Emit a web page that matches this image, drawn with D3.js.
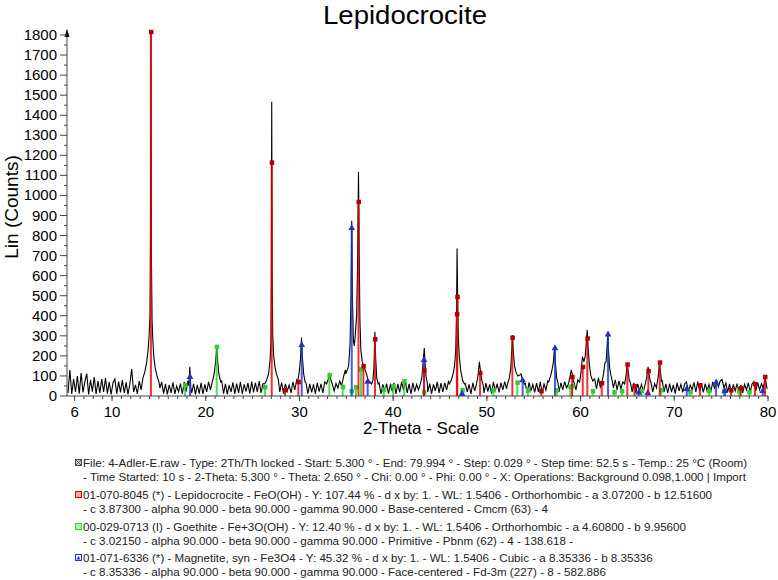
<!DOCTYPE html>
<html><head><meta charset="utf-8">
<script src="https://cdn.jsdelivr.net/npm/d3@7"></script>
<style>body{margin:0;background:#fff} text{font-family:"Liberation Sans",Arial,Helvetica,sans-serif}</style>
</head><body><svg id="c" width="778" height="580"></svg>
<script>
// ---------- DATA ----------
const scanStart = 5.3, scanStep = 0.2;
const scanCounts = [
 15,130,10,85,20,100,12,115,18,70,
 112,8,80,22,95,10,75,15,85,20,
 90,12,70,8,65,85,10,72,18,80,
 15,68,8,60,135,20,55,10,75,30,
 85,105,120,150,250,300,200,120,75,40,
 70,12,60,8,55,15,68,10,50,20,
 62,10,70,22,75,146,15,60,8,55,
 12,65,10,58,20,70,30,85,110,160,
 180,100,75,12,60,8,55,20,68,10,
 62,15,70,10,58,22,65,12,72,18,
 66,20,74,15,62,25,80,120,300,1400,
 250,110,80,20,68,12,60,25,55,15,
 70,30,80,100,250,90,20,65,12,60,
 18,58,10,66,22,60,15,70,30,100,
 110,70,25,62,40,75,50,95,130,120,
 150,300,800,300,500,1000,300,170,140,120,
 80,60,100,300,100,15,65,10,58,20,
 62,12,55,25,66,10,60,18,70,30,
 75,15,60,10,65,22,58,30,70,150,
 230,90,20,62,12,58,25,70,15,64,
 20,66,30,72,40,95,180,700,300,110,
 70,15,62,20,58,10,66,25,80,160,
 120,60,15,64,22,58,12,70,25,62,
 18,66,30,72,35,90,150,300,120,110,
 90,100,70,20,62,15,68,25,58,18,
 64,20,70,15,60,30,75,120,200,240,
 150,70,20,66,30,72,40,85,120,100,
 70,30,80,45,190,160,320,200,100,80,
 40,85,35,90,45,95,160,200,310,200,
 100,40,80,30,75,35,70,80,160,100,
 70,20,65,15,60,25,58,20,62,100,
 140,70,20,62,40,90,165,80,20,60,
 15,62,20,55,12,66,25,58,18,60,
 70,22,55,30,68,20,72,25,60,18,
 62,25,58,20,70,35,80,45,75,82,
 40,65,20,60,15,58,25,62,20,55,
 15,58,30,66,20,60,72,25,68,30,
 62,40,95,35
];
const peakProfiles = [
 [[13.3,90],[13.5,120],[13.7,170],[13.85,230],[13.95,300],[14.05,400],[14.1,800],[14.15,1808],[14.2,700],[14.27,380],[14.35,280],[14.45,200],[14.6,140],[14.8,100],[15.0,70]],
 [[18.2,50],[18.3,146],[18.4,45]],
 [[20.7,70],[20.9,110],[21.05,170],[21.17,240],[21.28,170],[21.4,110],[21.6,70]],
 [[26.3,60],[26.5,80],[26.7,110],[26.85,170],[26.95,260],[27.0,600],[27.04,1467],[27.09,600],[27.15,300],[27.25,200],[27.4,140],[27.55,110],[27.75,80]],
 [[29.8,70],[29.95,110],[30.1,180],[30.22,292],[30.3,200],[30.45,110],[30.6,70]],
 [[32.9,60],[33.05,80],[33.2,115],[33.35,80],[33.5,60]],
 [[34.95,110],[35.1,130],[35.25,150],[35.4,260],[35.5,500],[35.58,874],[35.65,500],[35.75,280],[35.85,250],[35.95,300],[36.1,400],[36.2,650],[36.3,1118],[36.38,700],[36.45,380],[36.55,230],[36.7,170],[36.85,150],[37.0,130],[37.15,110],[37.3,85],[37.5,70],[37.7,60],[37.85,80],[37.95,150],[38.05,320],[38.12,200],[38.25,90],[38.4,60]],
 [[42.9,60],[43.05,90],[43.15,140],[43.25,200],[43.32,239],[43.4,170],[43.5,100],[43.65,60]],
 [[46.0,60],[46.2,80],[46.4,110],[46.55,150],[46.68,230],[46.76,400],[46.82,736],[46.88,500],[46.95,300],[47.05,200],[47.2,130],[47.4,80],[47.6,60]],
 [[48.9,60],[49.05,100],[49.2,170],[49.3,130],[49.45,80],[49.6,55]],
 [[52.2,60],[52.4,90],[52.55,140],[52.65,220],[52.73,304],[52.82,220],[52.95,150],[53.1,120],[53.3,100],[53.5,105],[53.65,110],[53.8,80],[54.0,60]],
 [[56.6,70],[56.8,100],[56.95,130],[57.1,170],[57.22,243],[57.32,160],[57.45,90],[57.6,60]],
 [[58.7,60],[58.85,90],[59.0,130],[59.1,110],[59.25,70]],
 [[59.9,70],[60.05,120],[60.2,196],[60.35,170],[60.5,200],[60.6,260],[60.7,329],[60.8,240],[60.95,150],[61.1,100],[61.3,75]],
 [[62.3,75],[62.45,110],[62.6,165],[62.72,170],[62.82,240],[62.9,312],[62.98,230],[63.1,140],[63.25,100],[63.4,70]],
 [[64.7,60],[64.85,100],[64.98,160],[65.08,120],[65.2,80],[65.35,60]],
 [[66.9,60],[67.05,90],[67.2,146],[67.3,110],[67.45,70]],
 [[68.15,60],[68.3,100],[68.42,168],[68.52,120],[68.65,70]]
];
const lepidocrociteSticks = [[14.15,1816],[27.04,1165],[28.46,30],[29.88,71],[36.3,969],[36.82,150],[38.06,284],[43.3,130],[46.84,495],[46.8,409],[49.27,116],[52.72,292],[55.8,25],[59.1,96],[60.23,146],[60.72,288],[62.26,65],[64.99,158],[65.74,50],[67.23,125],[68.45,168],[72.75,55],[76.06,30],[77.1,40],[78.6,60],[79.68,96]];
const goethiteSticks = [[17.79,55],[21.17,246],[26.32,45],[33.19,105],[34.62,46],[35.55,25],[36.04,45],[36.57,134],[39.0,33],[40.0,50],[41.18,75],[43.29,20],[47.38,30],[50.69,30],[53.25,68],[54.4,30],[57.45,30],[58.9,46],[59.1,50],[61.3,25],[63.6,20],[64.4,25],[66.5,25],[68.6,30],[71.7,20],[73.7,25],[75.3,25],[76.9,25],[78.0,20]];
const magnetiteSticks = [[18.32,100],[30.24,259],[35.58,842],[37.28,76],[43.29,184],[47.35,15],[53.82,83],[57.27,243],[62.93,312],[66.2,22],[67.17,20],[71.33,40],[74.46,71],[75.4,30],[79.44,30]];
const xTickValues = [6,10,20,30,40,50,60,70,80];
const yTickValues = [0,100,200,300,400,500,600,700,800,900,1000,1100,1200,1300,1400,1500,1600,1700,1800];
const titleText = "Lepidocrocite";
const xLabel = "2-Theta - Scale", yLabel = "Lin (Counts)";
const legendEntries = [
 {kind:"file", color:"#555", lines:["File: 4-Adler-E.raw - Type: 2Th/Th locked - Start: 5.300 ° - End: 79.994 ° - Step: 0.029 ° - Step time: 52.5 s - Temp.: 25 °C (Room)","- Time Started: 10 s - 2-Theta: 5.300 ° - Theta: 2.650 ° - Chi: 0.00 ° - Phi: 0.00 ° - X: Operations: Background 0.098,1.000 | Import"]},
 {kind:"square", color:"#e00000", lines:["01-070-8045 (*) - Lepidocrocite - FeO(OH) - Y: 107.44 % - d x by: 1. - WL: 1.5406 - Orthorhombic - a 3.07200 - b 12.51600","- c 3.87300 - alpha 90.000 - beta 90.000 - gamma 90.000 - Base-centered - Cmcm (63) - 4"]},
 {kind:"square", color:"#22dd22", lines:["00-029-0713 (I) - Goethite - Fe+3O(OH) - Y: 12.40 % - d x by: 1. - WL: 1.5406 - Orthorhombic - a 4.60800 - b 9.95600","- c 3.02150 - alpha 90.000 - beta 90.000 - gamma 90.000 - Primitive - Pbnm (62) - 4 - 138.618 -"]},
 {kind:"triangle", color:"#2233dd", lines:["01-071-6336 (*) - Magnetite, syn - Fe3O4 - Y: 45.32 % - d x by: 1. - WL: 1.5406 - Cubic - a 8.35336 - b 8.35336","- c 8.35336 - alpha 90.000 - beta 90.000 - gamma 90.000 - Face-centered - Fd-3m (227) - 8 - 582.886"]}
];

// ---------- CHART ----------
const svg = d3.select("#c");
const x = d3.scaleLinear().domain([5.3, 80]).range([68, 768]);
const y = d3.scaleLinear().domain([0, 1800]).range([396, 35]);

const ranges = peakProfiles.map(p => [p[0][0], p[p.length-1][0]]);
let pts = scanCounts.map((c,i) => [scanStart + i*scanStep, c])
  .filter(p => !ranges.some(r => p[0] >= r[0] && p[0] <= r[1]));
peakProfiles.forEach(p => pts = pts.concat(p));
pts.sort((a,b) => a[0]-b[0]);

svg.append("path").datum(pts)
  .attr("d", d3.line().x(d => x(d[0])).y(d => y(d[1])))
  .attr("fill","none").attr("stroke","#000").attr("stroke-width",1.1);

function drawSticks(data, stickColor, markColor, shape){
  const g = svg.append("g");
  g.selectAll("line").data(data).join("line")
    .attr("x1", d => x(d[0])).attr("x2", d => x(d[0]))
    .attr("y1", y(0)).attr("y2", d => y(d[1]))
    .attr("stroke", stickColor).attr("stroke-width", 2).attr("opacity", 0.8);
  if (shape === "square") {
    g.selectAll("rect").data(data).join("rect")
      .attr("x", d => x(d[0]) - 2).attr("y", d => y(d[1]) - 2)
      .attr("width",4.5).attr("height",4.5).attr("fill", markColor);
  } else {
    g.selectAll("path").data(data).join("path")
      .attr("d", d => d3.symbol(d3.symbolTriangle, 20)())
      .attr("transform", d => `translate(${x(d[0])},${y(d[1])+1})`)
      .attr("fill", markColor);
  }
}
drawSticks(goethiteSticks, "#22dd22", "#33cc33", "square");
drawSticks(magnetiteSticks, "#2233dd", "#2233cc", "triangle");
drawSticks(lepidocrociteSticks, "#ee0000", "#b00000", "square");

const axisColor = "#444";
const xAxis = svg.append("g").attr("transform", `translate(0,${y(0)})`);
xAxis.append("line").attr("x1",67).attr("x2",768).attr("stroke",axisColor);
xAxis.selectAll(".minor").data(d3.range(6,81,1)).join("line")
  .attr("x1", d=>x(d)).attr("x2", d=>x(d)).attr("y1",0).attr("y2",3).attr("stroke",axisColor);
xAxis.selectAll(".major").data(xTickValues).join("line")
  .attr("x1", d=>x(d)).attr("x2", d=>x(d)).attr("y1",0).attr("y2",5).attr("stroke",axisColor);
xAxis.selectAll("text").data(xTickValues).join("text")
  .attr("x", d=>x(d)).attr("y",21).attr("text-anchor","middle")
  .attr("font-size",15).text(d=>d);

const yAxis = svg.append("g").attr("transform", "translate(67,0)");
yAxis.append("line").attr("y1",y(0)).attr("y2",30).attr("stroke",axisColor);
yAxis.append("path").attr("d","M-2.5,37 L0,29 L2.5,37 Z").attr("fill","#000");
yAxis.selectAll(".minor").data(d3.range(50,1800,100)).join("line")
  .attr("y1", d=>y(d)).attr("y2", d=>y(d)).attr("x1",-3).attr("x2",0).attr("stroke",axisColor);
yAxis.selectAll(".major").data(yTickValues).join("line")
  .attr("y1", d=>y(d)).attr("y2", d=>y(d)).attr("x1",-7).attr("x2",0).attr("stroke",axisColor);
yAxis.selectAll("text").data(yTickValues).join("text")
  .attr("x",-10).attr("y", d=>y(d)+5).attr("text-anchor","end")
  .attr("font-size",15).text(d=>d);

svg.append("text").attr("x",405).attr("y",24).attr("text-anchor","middle")
  .attr("font-size",25).attr("textLength",164).attr("lengthAdjust","spacingAndGlyphs").text(titleText);
svg.append("text").attr("x",421).attr("y",434).attr("text-anchor","middle")
  .attr("font-size",17).text(xLabel);
svg.append("text").attr("transform","translate(18,207) rotate(-90)").attr("text-anchor","middle")
  .attr("font-size",19).text(yLabel);

const legendTops = [467, 499, 531, 562];
const lg = svg.append("g");
const texts = [];
legendEntries.forEach((e,i) => {
  const base = legendTops[i];
  const cy = base - 4;
  if (e.kind === "file") {
    lg.append("rect").attr("x",75.5).attr("y",cy-3.5).attr("width",6).attr("height",6)
      .attr("fill","#ccc").attr("stroke","#444");
    lg.append("path").attr("d",`M75.5,${cy-3.5} L81.5,${cy+2.5} M81.5,${cy-3.5} L75.5,${cy+2.5}`).attr("stroke","#444").attr("stroke-width",0.8);
  } else if (e.kind === "square") {
    lg.append("rect").attr("x",75.5).attr("y",cy-3.5).attr("width",6).attr("height",6)
      .attr("fill",e.color).attr("fill-opacity",0.35).attr("stroke",e.color);
  } else {
    lg.append("rect").attr("x",75.5).attr("y",cy-3.5).attr("width",6).attr("height",6)
      .attr("fill","#fff").attr("stroke",e.color);
    lg.append("path").attr("d",`M78.5,${cy-2} L80.5,${cy+1.5} L76.5,${cy+1.5} Z`).attr("fill",e.color);
  }
  e.lines.forEach((t,j) => {
    const tx = lg.append("text").attr("x",0).attr("y",0)
      .attr("font-size",11).attr("fill","#222").text(t);
    texts.push({node: tx, y: base + j*14});
  });
});
const w0 = texts[0].node.node().getComputedTextLength();
const s = 665 / w0;
texts.forEach(t => t.node.attr("transform", `translate(83,${t.y}) scale(${s},1)`));
</script></body></html>
